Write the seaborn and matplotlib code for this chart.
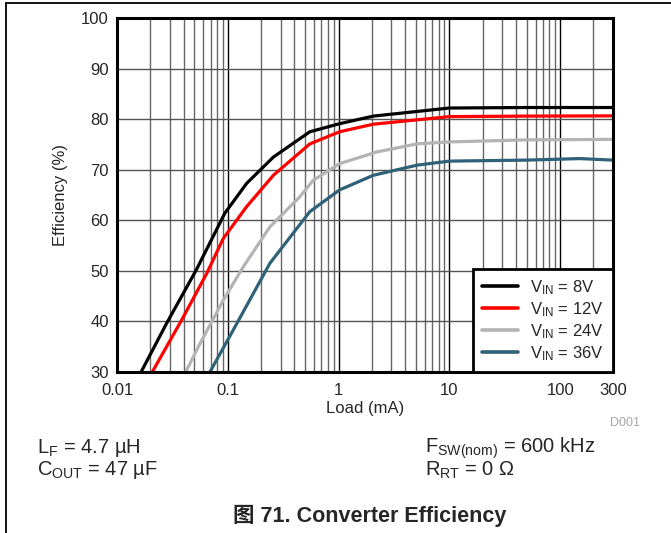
import numpy as np
import pandas as pd
import matplotlib
matplotlib.use('Agg')
import matplotlib.pyplot as plt
from matplotlib.lines import Line2D
from matplotlib.ticker import LogLocator, FixedLocator, FixedFormatter, NullFormatter
import seaborn as sns

# curvas de eficiencia (carga en mA, eficiencia en %)
load_8v = [0.0165, 0.028, 0.052, 0.094, 0.148, 0.258, 0.55, 1.02, 2.06, 10, 50, 300]
eff_8v = [30.0, 39.6, 50.2, 61.4, 67.3, 72.5, 77.5, 79.1, 80.6, 82.2, 82.3, 82.3]

load_12v = [0.0208, 0.0384, 0.0646, 0.091, 0.148, 0.258, 0.55, 1.02, 2.06, 10, 50, 300]
eff_12v = [30.0, 40.3, 49.5, 56.4, 62.7, 68.9, 75.1, 77.5, 79.0, 80.5, 80.6, 80.65]

load_24v = [0.0417, 0.0564, 0.091, 0.138, 0.24, 0.445, 0.59, 1.02, 2.2, 5.1, 10, 50, 300]
eff_24v = [30.0, 35.7, 44.2, 50.8, 58.7, 64.6, 67.9, 71.2, 73.5, 75.1, 75.5, 75.9, 76.0]

load_36v = [0.069, 0.112, 0.24, 0.55, 1.02, 2.06, 5.1, 10, 50, 150, 300]
eff_36v = [30.0, 38.3, 51.5, 61.7, 66.0, 68.9, 70.9, 71.7, 71.9, 72.2, 71.9]

series = ['8V', '12V', '24V', '36V']
colors = ['#000000', '#ff0000', '#b4b4b4', '#2f6179']
x_ticks = [0.01, 0.1, 1, 10, 100, 300]
x_labels = ['0.01', '0.1', '1', '10', '100', '300']
y_ticks = [30, 40, 50, 60, 70, 80, 90, 100]

frames = []
for name, x, y in zip(series, [load_8v, load_12v, load_24v, load_36v],
                      [eff_8v, eff_12v, eff_24v, eff_36v]):
    frames.append(pd.DataFrame({'load': x, 'eff': y, 'vin': name}))
df = pd.concat(frames, ignore_index=True)

sns.set_style('white')
plt.rcParams['font.family'] = ['Liberation Sans', 'Noto Sans CJK SC']
plt.rcParams['mathtext.fontset'] = 'custom'
plt.rcParams['mathtext.rm'] = 'Liberation Sans'
plt.rcParams['mathtext.it'] = 'Liberation Sans:italic'
plt.rcParams['mathtext.bf'] = 'Liberation Sans:bold'

fig = plt.figure(figsize=(6.71, 5.33), dpi=100)
ax = fig.add_axes([117 / 671, 1 - 372 / 533, 496 / 671, 354 / 533])

ax.set_xscale('log')
ax.set_xlim(0.01, 300)
ax.set_ylim(30, 100)

# rejilla: decadas en negro, subdivisiones en gris
ax.xaxis.set_minor_locator(LogLocator(base=10, subs=np.arange(2, 10)))
ax.xaxis.set_minor_formatter(NullFormatter())
ax.grid(True, which='major', axis='x', color='black', lw=1.0)
ax.grid(True, which='minor', axis='x', color='#666666', lw=1.0)
ax.grid(True, which='major', axis='y', color='#555555', lw=1.0)

sns.lineplot(data=df, x='load', y='eff', hue='vin', palette=colors,
             hue_order=series, sort=False, estimator=None, lw=2.3, ax=ax,
             legend=False, zorder=3)

ax.xaxis.set_major_locator(FixedLocator(x_ticks))
ax.xaxis.set_major_formatter(FixedFormatter(x_labels))
ax.set_yticks(y_ticks)
ax.tick_params(axis='both', which='both', length=0, labelsize=12)
ax.tick_params(axis='x', pad=8)
ax.tick_params(axis='y', pad=6)

for s in ax.spines.values():
    s.set_color('black')
    s.set_linewidth(2.2)
    s.set_zorder(5)

ax.set_xlabel('Load (mA)', fontsize=12, labelpad=2)
ax.set_ylabel('Efficiency (%)', fontsize=12, labelpad=9)

handles = [Line2D([], [], color=c, lw=2.6) for c in colors]
labels = [r'V$_{\mathrm{IN}}$ = ' + s for s in series]
leg = ax.legend(handles, labels, loc='lower right', fontsize=12,
                frameon=True, fancybox=False, borderaxespad=0,
                handlelength=2.2, handletextpad=0.7, labelspacing=0.2,
                borderpad=0.55)
leg.get_frame().set_edgecolor('black')
leg.get_frame().set_linewidth(2.0)
leg.get_frame().set_alpha(1)
leg.set_zorder(6)

fig.text(625 / 671, 1 - 423 / 533, 'D001', color='#a6a6a6', fontsize=9,
         ha='center', va='center')

fig.text(37 / 671, 1 - 448 / 533, r'L$_{\mathrm{F}}$ = 4.7 µH', fontsize=14.5,
         ha='left', va='center')
fig.text(37 / 671, 1 - 470 / 533, r'C$_{\mathrm{OUT}}$ = 47 µF', fontsize=14.5,
         ha='left', va='center')
fig.text(425 / 671, 1 - 448 / 533, r'F$_{\mathrm{SW(nom)}}$ = 600 kHz',
         fontsize=14.5, ha='left', va='center')
fig.text(425 / 671, 1 - 470 / 533, r'R$_{\mathrm{RT}}$ = 0 Ω', fontsize=14.5,
         ha='left', va='center')

fig.text(370 / 671, 1 - 516 / 533, '图 71. Converter Efficiency',
         fontsize=15.5, fontweight='bold', ha='center', va='center')

# marco de la pagina (arriba e izquierda)
fig.add_artist(Line2D([6 / 671, 1], [1 - 3 / 533, 1 - 3 / 533],
                      transform=fig.transFigure, color='black', lw=1.3))
fig.add_artist(Line2D([6 / 671, 6 / 671], [0, 1 - 3 / 533],
                      transform=fig.transFigure, color='black', lw=1.3))

fig.savefig('out.png', dpi=100)
